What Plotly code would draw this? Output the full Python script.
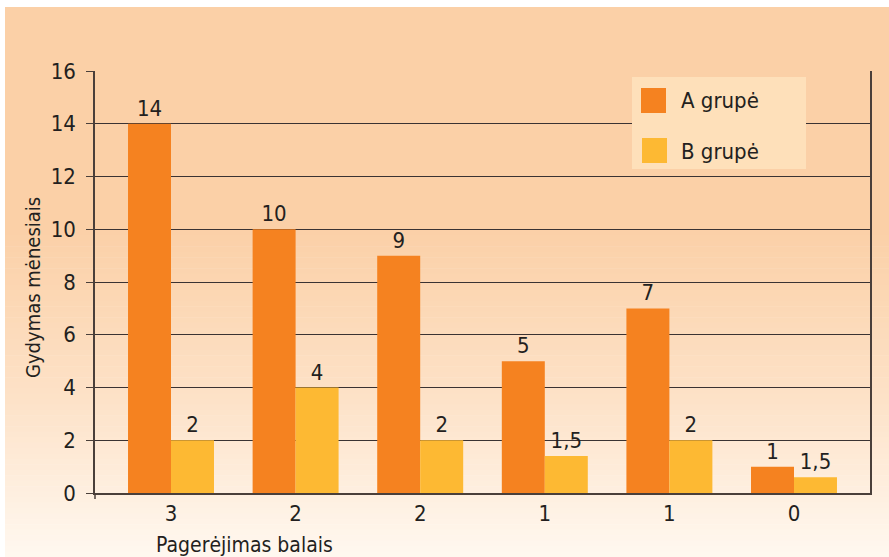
import plotly.graph_objects as go

# ---- data ----
categories = ["3", "2", "2", "1", "1", "0"]
a_values = [14, 10, 9, 5, 7, 1]
b_values = [2, 4, 2, 1.4, 2, 0.6]
a_labels = ["14", "10", "9", "5", "7", "1"]
b_labels = ["2", "4", "2", "1,5", "2", "1,5"]
series_names = ["A grupė", "B grupė"]
y_ticks = [0, 2, 4, 6, 8, 10, 12, 14, 16]

# ---- style ----
W, H = 889, 557
L, R, T, B = 95, 870, 71, 493
FONT = "Liberation Sans Narrow, DejaVu Sans Condensed, Arial Narrow, sans-serif"
TXT = "#231f20"
C_A = "#f58220"
C_B = "#fdb933"

def px(x):
    return (x - L) / (R - L)

def py(y):
    return (B - y) / (B - T)

x_idx = list(range(len(categories)))

fig = go.Figure()
fig.add_trace(go.Bar(x=x_idx, y=a_values, name=series_names[0], marker=dict(color=C_A, line=dict(width=0)),
                     text=a_labels, textposition="outside", textfont=dict(size=22, color=TXT, family=FONT),
                     cliponaxis=False, showlegend=False))
fig.add_trace(go.Bar(x=x_idx, y=b_values, name=series_names[1], marker=dict(color=C_B, line=dict(width=0)),
                     text=b_labels, textposition="outside", textfont=dict(size=22, color=TXT, family=FONT),
                     cliponaxis=False, showlegend=False))

shapes = []
# vertical gradient background
top_c = (251, 208, 167)
mid_c = (253, 226, 200)
bot_c = (255, 248, 240)
y0g, y1g, y2g = 230, 400, 557
shapes.append(dict(type="rect", xref="paper", yref="paper", x0=px(5), x1=px(W), y0=py(y0g), y1=py(7),
                   fillcolor="rgb(%d,%d,%d)" % top_c, line=dict(width=0), layer="below"))
n = 60
for i in range(n):
    ya = y0g + (y2g - y0g) * i / n
    yb = y0g + (y2g - y0g) * (i + 1) / n
    ym = (ya + yb) / 2
    if ym <= y1g:
        t = (ym - y0g) / (y1g - y0g)
        c = tuple(int(round(top_c[k] + (mid_c[k] - top_c[k]) * t)) for k in range(3))
    else:
        t = (ym - y1g) / (y2g - y1g)
        c = tuple(int(round(mid_c[k] + (bot_c[k] - mid_c[k]) * t)) for k in range(3))
    shapes.append(dict(type="rect", xref="paper", yref="paper", x0=px(5), x1=px(W), y0=py(yb + 0.5), y1=py(ya),
                       fillcolor="rgb(%d,%d,%d)" % c, line=dict(width=0), layer="below"))

# legend box
shapes.append(dict(type="rect", xref="paper", yref="paper", x0=px(632), x1=px(806), y0=py(169), y1=py(77),
                   fillcolor="#fee0ba", line=dict(width=0), layer="above"))
shapes.append(dict(type="rect", xref="paper", yref="paper", x0=px(641), x1=px(666), y0=py(113), y1=py(88),
                   fillcolor=C_A, line=dict(width=0), layer="above"))
shapes.append(dict(type="rect", xref="paper", yref="paper", x0=px(642), x1=px(667), y0=py(163), y1=py(138),
                   fillcolor=C_B, line=dict(width=0), layer="above"))
# small tick below origin
shapes.append(dict(type="line", xref="paper", yref="paper", x0=0, x1=0, y0=py(499), y1=0,
                   line=dict(color="#4a3f3a", width=1.5)))

annotations = [
    dict(text=series_names[0], xref="paper", yref="paper", x=px(679), y=py(101), xanchor="left", yanchor="middle",
         showarrow=False, font=dict(size=22, color=TXT, family=FONT)),
    dict(text=series_names[1], xref="paper", yref="paper", x=px(679), y=py(151), xanchor="left", yanchor="middle",
         showarrow=False, font=dict(size=22, color=TXT, family=FONT)),
    dict(text="Pagerėjimas balais", xref="paper", yref="paper", x=px(244), y=py(545), xanchor="center",
         yanchor="middle", showarrow=False, font=dict(size=21, color=TXT, family=FONT)),
    dict(text="Gydymas mėnesiais", xref="paper", yref="paper", x=px(33), y=py(288), xanchor="center",
         yanchor="middle", textangle=-90, showarrow=False, font=dict(size=20, color=TXT, family=FONT)),
]

fig.update_layout(
    width=W, height=H,
    margin=dict(l=L, r=W - R, t=T, b=H - B, pad=0),
    paper_bgcolor="white",
    plot_bgcolor="rgba(0,0,0,0)",
    barmode="group", bargap=0.31, bargroupgap=0,
    font=dict(family=FONT, size=22, color=TXT),
    shapes=shapes, annotations=annotations,
    xaxis=dict(range=[-0.61, 5.61], tickvals=x_idx, ticktext=categories, showgrid=False, zeroline=False,
               showline=True, linecolor="#4a3f3a", linewidth=1.5, ticks="", mirror=False,
               tickfont=dict(size=22, color=TXT, family=FONT), fixedrange=True),
    yaxis=dict(range=[0, 16], tickvals=y_ticks, showgrid=True, gridcolor="#3a3232", gridwidth=1.3,
               zeroline=False, showline=True, linecolor="#4a3f3a", linewidth=1.5, mirror=True,
               ticks="outside", ticklen=7, tickcolor="#4a3f3a", tickwidth=1.3, ticklabelstandoff=6,
               tickfont=dict(size=22, color=TXT, family=FONT), fixedrange=True),
    showlegend=False,
)

fig.write_html("out.html")
